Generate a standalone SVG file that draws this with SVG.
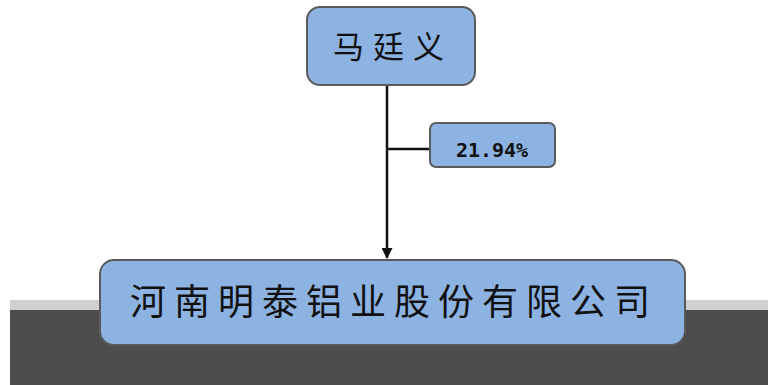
<svg xmlns="http://www.w3.org/2000/svg" width="768" height="385" viewBox="0 0 768 385">
<defs>
<style>
.box{fill:#8db3e2;stroke:#5a5a5a;stroke-width:2}
.cjk{font-family:"Noto Sans CJK SC","Noto Sans",sans-serif;fill:#111;text-anchor:middle}
.pct{font-family:"DejaVu Sans Mono","Liberation Mono",monospace;font-weight:bold;font-size:20px;fill:#111;text-anchor:middle}
.ln{stroke:#111;stroke-width:2.5;fill:none}
</style>
<marker id="ah" markerWidth="11" markerHeight="11" refX="10" refY="5.5" orient="auto" markerUnits="userSpaceOnUse">
<path d="M0,0 L11,5.5 L0,11 Z" fill="#111"/>
</marker>
</defs>
<rect width="768" height="385" fill="#fff"/>
<g id="artifact">
<rect x="10" y="300" width="758" height="85" fill="#4d4d4d"/>
<rect x="10" y="300" width="758" height="10" fill="#d0d0d0"/>
</g>
<g id="connectors">
<line class="ln" x1="387" y1="86" x2="387" y2="258" marker-end="url(#ah)"/>
<line class="ln" x1="387" y1="149" x2="430" y2="149"/>
</g>
<g id="node-person">
<rect class="box" x="307" y="7" width="168" height="78" rx="13"/>
<text class="cjk" x="393" y="58" font-size="31" letter-spacing="9">马廷义</text>
</g>
<g id="label-pct">
<rect class="box" x="430" y="123" width="125" height="44" rx="6"/>
<text class="pct" x="492" y="157">21.94%</text>
</g>
<g id="node-company">
<rect class="box" x="100" y="260" width="585" height="85" rx="14"/>
<text class="cjk" x="394" y="315" font-size="36" letter-spacing="8">河南明泰铝业股份有限公司</text>
</g>
</svg>
